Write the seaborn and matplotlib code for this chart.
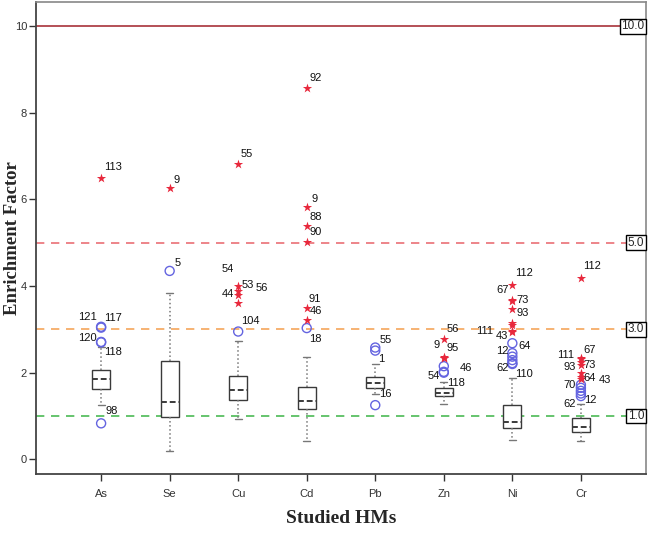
import seaborn as sns
import matplotlib.pyplot as plt

metals = ["As", "Se", "Cu", "Cd", "Pb", "Zn", "Ni", "Cr"]

# box statistics
whis_lo = [1.25, 0.20, 0.92, 0.43, 1.50, 1.27, 0.45, 0.43]
q1 = [1.62, 0.97, 1.36, 1.15, 1.64, 1.45, 0.72, 0.64]
med = [1.85, 1.33, 1.59, 1.35, 1.75, 1.54, 0.85, 0.75]
q3 = [2.06, 2.28, 1.92, 1.66, 1.91, 1.65, 1.25, 0.95]
whis_hi = [2.60, 3.85, 2.72, 2.37, 2.19, 1.78, 1.88, 1.28]

# outliers (circles)
out_metal = ["As", "As", "As", "As", "As", "Se", "Cu", "Cd", "Pb", "Pb", "Pb",
             "Zn", "Zn", "Zn", "Ni", "Ni", "Ni", "Ni", "Ni", "Ni",
             "Cr", "Cr", "Cr", "Cr", "Cr"]
out_value = [3.06, 3.04, 2.71, 2.70, 0.83, 4.35, 2.95, 3.03, 2.58, 2.51, 1.25,
             2.15, 2.02, 2.00, 2.68, 2.45, 2.37, 2.29, 2.22, 2.20,
             1.72, 1.65, 1.58, 1.52, 1.46]
out_label = ["121", "117", "120", "118", "98", "5", "104", "18", "55", "1", "16",
             "46", "54", "118", "64", "12", "", "", "62", "110",
             "", "", "", "12", "62"]

# extremes (stars)
ext_metal = ["As", "Se", "Cu", "Cu", "Cu", "Cu", "Cu",
             "Cd", "Cd", "Cd", "Cd", "Cd", "Cd",
             "Zn", "Zn", "Zn", "Zn",
             "Ni", "Ni", "Ni", "Ni", "Ni", "Ni", "Ni", "Ni",
             "Cr", "Cr", "Cr", "Cr", "Cr", "Cr", "Cr", "Cr"]
ext_value = [6.50, 6.27, 6.81, 4.00, 3.89, 3.79, 3.60,
             8.57, 5.82, 5.39, 5.01, 3.50, 3.22,
             2.78, 2.37, 2.33, 2.35,
             4.03, 3.68, 3.66, 3.46, 3.14, 3.10, 2.95, 2.96,
             4.18, 2.33, 2.32, 2.25, 2.18, 1.99, 1.91, 1.85]
ext_label = ["113", "9", "55", "54", "53", "44", "56",
             "92", "9", "88", "90", "91", "46",
             "56", "9", "95", "",
             "112", "67", "73", "93", "", "", "43", "111",
             "112", "67", "111", "73", "93", "64", "43", "70"]

# label offsets in pixels (dx, dy)
out_off = [(-14, 10), (12, 10), (-14, 4), (12, -10), (11, 12), (8, 8), (12, 11),
           (9, -11), (10, 8), (6, -8), (10, 11), (22, -2), (-10, -4), (12, -10),
           (12, -3), (-10, 2), (0, 0), (0, 0), (-10, -5), (12, -10),
           (0, 0), (0, 0), (0, 0), (9, -7), (-11, -8)]
ext_off = [(12, 11), (7, 8), (9, 10), (-10, 17), (10, 6), (-10, 1), (24, 15),
           (9, 10), (8, 8), (9, 9), (9, 10), (8, 9), (9, 9),
           (9, 10), (-7, 12), (9, 10), (0, 0),
           (12, 12), (-10, 10), (10, 1), (10, -4), (0, 0), (0, 0), (-10, -4), (-28, 0),
           (11, 12), (9, 8), (-15, 4), (9, -3), (-11, -2), (9, -5), (24, -3), (-11, -6)]

ref_values = [10.0, 5.0, 3.0, 1.0]
ref_colors = ["#a8323a", "#ea6f75", "#f5a65b", "#4cba55"]
ref_styles = ["-", (0, (5, 4)), (0, (5, 4)), (0, (5, 4))]

sns.set_style("white")
plt.rcParams["font.family"] = ["Liberation Sans", "DejaVu Sans"]

fig = plt.figure(figsize=(6.49, 5.37), dpi=100)
ax = fig.add_axes([36 / 649, 1 - 474 / 537, 610 / 649, 472 / 537])

for v, c, ls in zip(ref_values, ref_colors, ref_styles):
    ax.axhline(v, color=c, ls=ls, lw=1.2, zorder=1)
    ax.text(0.997, v, f"{v:.1f}", transform=ax.get_yaxis_transform(), ha="right", va="center",
            fontsize=8.5, zorder=6,
            bbox=dict(boxstyle="square,pad=0.12", fc="white", ec="black", lw=1))

stats = [dict(whislo=a, q1=b, med=c, q3=d, whishi=e, fliers=[])
         for a, b, c, d, e in zip(whis_lo, q1, med, q3, whis_hi)]
ax.bxp(stats, positions=range(len(metals)), widths=0.26, capwidths=0.1,
       showfliers=False, patch_artist=True, manage_ticks=False, zorder=2,
       boxprops=dict(facecolor="white", edgecolor="#3a3a3a", lw=1),
       medianprops=dict(color="#3a3a3a", lw=1.4, ls=(0, (3, 1.5))),
       whiskerprops=dict(color="#777777", lw=1.1, ls=":"),
       capprops=dict(color="#777777", lw=1))

sns.stripplot(x=out_metal, y=out_value, order=metals, jitter=False, marker="o", size=6.5,
              facecolor="none", edgecolor="#6464e0", linewidth=1, ax=ax, zorder=4)
sns.stripplot(x=ext_metal, y=ext_value, order=metals, jitter=False, marker="*", size=7,
              color="#e8283c", linewidth=0, ax=ax, zorder=4)

for m, v, t, (dx, dy) in zip(out_metal + ext_metal, out_value + ext_value,
                             out_label + ext_label, out_off + ext_off):
    if t:
        ax.annotate(t, (metals.index(m), v), xytext=(dx, dy), textcoords="offset pixels",
                    ha="center", va="center", fontsize=8, color="#111111", zorder=5)

ax.set_xlim(-0.95, 7.95)
ax.set_ylim(-0.34, 10.56)
ax.set_yticks([0, 2, 4, 6, 8, 10])
ax.set_xticks(range(len(metals)))
ax.set_xticklabels(metals)
ax.tick_params(bottom=True, left=True, direction="out", length=5, width=1,
               colors="#333333", labelsize=8, pad=1.5)
ax.tick_params(axis="x", pad=6)

for side in ["left", "bottom"]:
    ax.spines[side].set_color("#444444")
    ax.spines[side].set_linewidth(1.3)
for side in ["top", "right"]:
    ax.spines[side].set_color("#888888")
    ax.spines[side].set_linewidth(1.2)

ax.set_ylabel("Enrichment Factor", fontfamily="Liberation Serif", fontweight="bold", fontsize=13.5)
ax.set_xlabel("Studied HMs", fontfamily="Liberation Serif", fontweight="bold", fontsize=14)
ax.yaxis.set_label_coords(-0.024, 0.5)
ax.xaxis.set_label_coords(0.5, -0.077)

fig.savefig("out.png", dpi=100)
